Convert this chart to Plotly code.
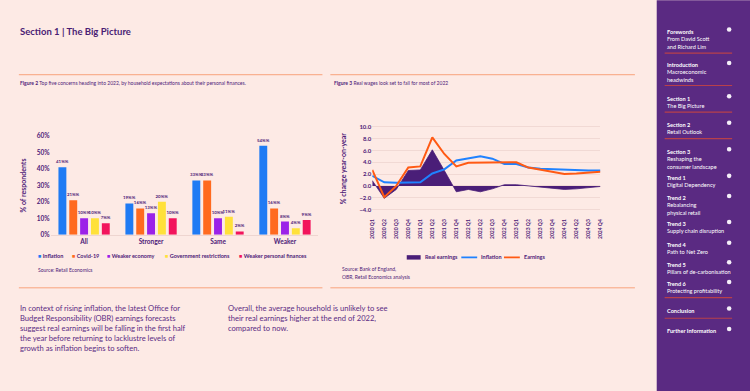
import plotly.graph_objects as go

W, H = 750, 391


def px(x):
    return x / W


def py(y):
    return 1 - y / H


# ---------------- Figure 2 data ----------------
groups = ["All", "Stronger", "Same", "Weaker"]
concerns = ["Inflation", "Covid-19", "Weaker economy",
            "Government restrictions", "Weaker personal finances"]
inflation_share = [41, 19, 33, 54]
covid_share = [21, 16, 33, 16]
weaker_economy_share = [10, 13, 10, 8]
gov_restrictions_share = [10, 20, 11, 4]
weaker_finances_share = [7, 10, 2, 9]
concern_colors = ["#1F7BF4", "#FF6A1F", "#9B22E8", "#FFE13A", "#F2145C"]

# ---------------- Figure 3 data ----------------
quarters = ["2020 Q1", "2020 Q2", "2020 Q3", "2020 Q4",
            "2021 Q1", "2021 Q2", "2021 Q3", "2021 Q4",
            "2022 Q1", "2022 Q2", "2022 Q3", "2022 Q4",
            "2023 Q1", "2023 Q2", "2023 Q3", "2023 Q4",
            "2024 Q1", "2024 Q2", "2024 Q3", "2024 Q4"]
real_earnings = [0.9, -2.1, -0.6, 2.6, 2.7, 6.1, 2.6, -1.0, -0.6, -1.0,
                 -0.5, 0.2, 0.2, 0.0, -0.2, -0.4, -0.6, -0.5, -0.3, -0.1]
inflation = [1.7, 0.6, 0.55, 0.55, 0.6, 2.1, 2.8, 4.3, 4.6, 5.0,
             4.6, 3.7, 3.7, 3.1, 2.9, 2.8, 2.7, 2.6, 2.6, 2.6]
earnings = [2.7, -1.9, 0.0, 3.1, 3.3, 8.2, 5.4, 3.3, 3.9, 3.9,
            3.9, 4.0, 4.0, 3.1, 2.7, 2.3, 2.0, 2.1, 2.2, 2.4]
line_names = ["Real earnings", "Inflation", "Earnings"]
line_colors = ["#4A1E78", "#1F82FF", "#FF5A14"]

# ---------------- styling ----------------
FONT = "Lato, 'Noto Sans', sans-serif"
PURPLE = "#4E2178"
BG = "#FDEAE5"
SIDEBAR = "#5A2A82"
ORANGE_RULE = "#F8A27C"
SIDE_RULE = "#B8404A"

fig = go.Figure()

share_series = [inflation_share, covid_share, weaker_economy_share,
                gov_restrictions_share, weaker_finances_share]
for name, vals, col in zip(concerns, share_series, concern_colors):
    fig.add_trace(go.Bar(
        x=groups, y=vals, name=name, marker_color=col, marker_line_width=0,
        texttemplate="<b>%{y}%</b>", textposition="outside",
        textfont=dict(size=4.4, color=PURPLE, family=FONT),
        constraintext="none", cliponaxis=False, showlegend=False,
        xaxis="x", yaxis="y"))

fig.add_trace(go.Scatter(
    x=quarters, y=real_earnings, name=line_names[0], mode="lines",
    line=dict(color=line_colors[0], width=0.8), fill="tozeroy",
    fillcolor=line_colors[0], showlegend=False, xaxis="x2", yaxis="y2"))
fig.add_trace(go.Scatter(
    x=quarters, y=inflation, name=line_names[1], mode="lines",
    line=dict(color=line_colors[1], width=2), showlegend=False,
    xaxis="x2", yaxis="y2"))
fig.add_trace(go.Scatter(
    x=quarters, y=earnings, name=line_names[2], mode="lines",
    line=dict(color=line_colors[2], width=2), showlegend=False,
    xaxis="x2", yaxis="y2"))

shapes = []
annotations = []

# sidebar
shapes.append(dict(type="rect", xref="paper", yref="paper", x0=px(659), x1=1.01,
                   y0=-0.01, y1=1.01, fillcolor=SIDEBAR, line_width=0, layer="below"))

# orange rules
for yy in (72, 289):
    shapes.append(dict(type="line", xref="paper", yref="paper", x0=px(16), x1=px(322),
                       y0=py(yy), y1=py(yy), line=dict(color=ORANGE_RULE, width=1)))
    shapes.append(dict(type="line", xref="paper", yref="paper", x0=px(330), x1=px(637),
                       y0=py(yy), y1=py(yy), line=dict(color=ORANGE_RULE, width=1)))


def ann(x, y, text, size, color=PURPLE, xanchor="left", yanchor="middle", **kw):
    annotations.append(dict(xref="paper", yref="paper", x=px(x), y=py(y), text=text,
                            showarrow=False, xanchor=xanchor, yanchor=yanchor,
                            align="left", font=dict(size=size, color=color, family=FONT), **kw))


ann(15, 27.5, "<b>Section 1 | The Big Picture</b>", 9.5, color="#4A1D74")
ann(15, 80, "<b>Figure 2</b> Top five concerns heading into 2022, by household expectations about their personal finances.", 5)
ann(332, 80, "<b>Figure 3</b> Real wages look set to fall for most of 2022", 5)

# y-axis titles
ann(20, 185, "<b>% of respondents</b>", 7, xanchor="center", textangle=-90)
ann(343, 167, "<b>% change year-on-year</b>", 7, xanchor="center", textangle=-90)

# legend for figure 2
leg1_x = [33, 68, 103, 161, 236]
for x, name, col in zip(leg1_x, concerns, concern_colors):
    ann(x, 257, f"<span style='color:{col}'>■</span> <b>{name}</b>", 5.5)
ann(33, 270.5, "Source: Retail Economics", 5)

# legend for figure 3
leg2 = [(407, 14, 4.5), (462, 16, 1.8), (505, 16, 1.8)]
for (x, w, t), name, col in zip(leg2, line_names, line_colors):
    shapes.append(dict(type="rect", xref="paper", yref="paper", x0=px(x), x1=px(x + w),
                       y0=py(258 + t / 2), y1=py(258 - t / 2), fillcolor=col, line_width=0))
    ann(x + w + 2, 258, f"<b>{name}</b>", 5.5)
ann(340, 270, "Source: Bank of England,", 5)
ann(340, 278, "OBR, Retail Economics analysis", 5)

# body text
ann(15, 302.5,
    "In context of rising inflation, the latest Office for<br>"
    "Budget Responsibility (OBR) earnings forecasts<br>"
    "suggest real earnings will be falling in the first half<br>"
    "the year before returning to lacklustre levels of<br>"
    "growth as inflation begins to soften.", 7.6, color="#5B2A84", yanchor="top")
ann(225, 302.5,
    "Overall, the average household is unlikely to see<br>"
    "their real earnings higher at the end of 2022,<br>"
    "compared to now.", 7.6, color="#5B2A84", yanchor="top")

# sidebar menu
menu = [
    ("Forewords", ["From David Scott", "and Richard Lim"], 26),
    ("Introduction", ["Macroeconomic", "headwinds"], 60),
    ("Section 1", ["The Big Picture"], 94),
    ("Section 2", ["Retail Outlook"], 121),
    ("Section 3", ["Reshaping the", "consumer landscape"], 148),
    ("Trend 1", ["Digital Dependency"], 175),
    ("Trend 2", ["Rebalancing", "physical retail"], 195.5),
    ("Trend 3", ["Supply chain disruption"], 222),
    ("Trend 4", ["Path to Net Zero"], 243),
    ("Trend 5", ["Pillars of de-carbonisation"], 263),
    ("Trend 6", ["Protecting profitability"], 283),
    ("Conclusion", [], 310),
    ("Further Information", [], 331),
]
for title, sub, yy in menu:
    text = "<br>".join([f"<b>{title}</b>"] + sub)
    ann(667, yy - 3.7, text, 5.6, color="white", yanchor="top")
    shapes.append(dict(type="circle", xref="paper", yref="paper",
                       x0=px(729.7), x1=px(734.3), y0=py(yy + 2.3), y1=py(yy - 2.3),
                       fillcolor="#F4EEF8", line_width=0))
for yy in (50, 83, 110, 137, 299, 320):
    shapes.append(dict(type="line", xref="paper", yref="paper", x0=px(667), x1=px(735),
                       y0=py(yy), y1=py(yy), line=dict(color=SIDE_RULE, width=1.2)))

tick_font = dict(color=PURPLE, family=FONT, weight="bold")

fig.update_layout(
    width=W, height=H, margin=dict(l=0, r=0, t=0, b=0),
    paper_bgcolor=BG, plot_bgcolor="rgba(0,0,0,0)",
    font=dict(family=FONT, color=PURPLE),
    barmode="group", bargap=0.19, bargroupgap=0.27,
    showlegend=False,
    xaxis=dict(domain=[px(48), px(318)], anchor="y", showgrid=False, ticks="",
               showline=True, linecolor="#EED5D0", linewidth=1,
               tickfont=dict(size=6.5, **tick_font)),
    yaxis=dict(domain=[py(235), py(134.3)], anchor="x", range=[0, 60], dtick=10,
               ticksuffix="%", showgrid=False, zeroline=False, ticks="",
               tickfont=dict(size=6.5, **tick_font)),
    xaxis2=dict(domain=[px(372.25), px(602.25)], anchor="y2", showgrid=False,
                ticks="", tickangle=-90, type="category",
                categoryorder="array", categoryarray=quarters,
                tickfont=dict(size=5, **tick_font)),
    yaxis2=dict(domain=[py(217.1), py(123.2)], anchor="x2", range=[-5.3, 10.3],
                tickvals=[-4, -2, 0, 2, 4, 6, 8, 10], tickformat=".1f",
                showgrid=True, gridcolor="#F1D9D4", gridwidth=1, zeroline=False,
                ticks="", tickfont=dict(size=6, **tick_font)),
    shapes=shapes, annotations=annotations,
)

fig.write_html(
    "out.html",
    config={"displayModeBar": False},
    post_script="document.body.style.margin='0px';document.body.style.background='" + BG + "';",
)
